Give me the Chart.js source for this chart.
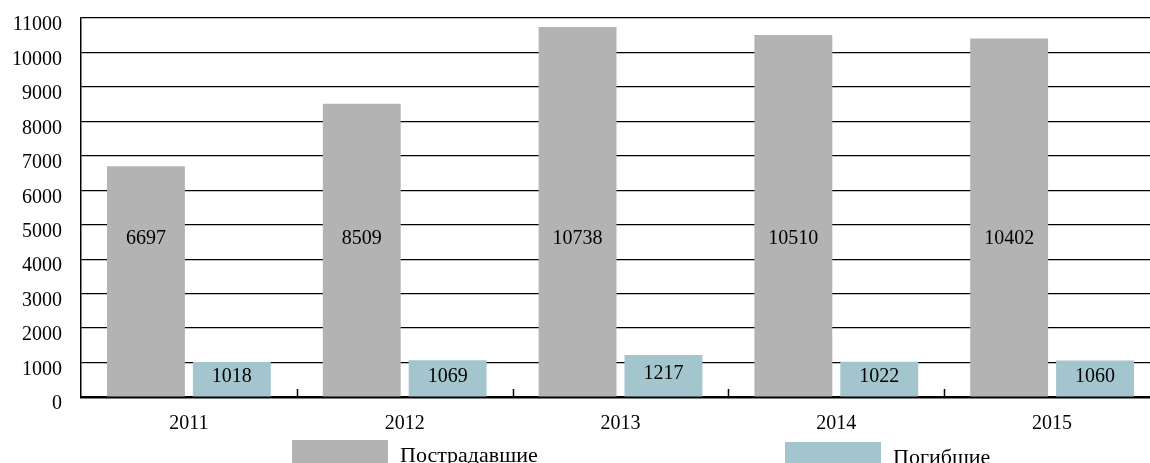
<!DOCTYPE html>
<html>
<head>
<meta charset="utf-8">
<script src="https://cdn.jsdelivr.net/npm/chart.js@4"></script>
<style>
    html, body { margin: 0; padding: 0; background: #fff; overflow: hidden; }
    #wrap { position: relative; width: 1160px; height: 463px; }
</style>
</head>
<body>
<div id="wrap"><canvas id="accidentsChart"></canvas></div>
<script>
const years = ['2011', '2012', '2013', '2014', '2015'];
const injured = [6697, 8509, 10738, 10510, 10402];
const killed = [1018, 1069, 1217, 1022, 1060];
const seriesNames = ['Пострадавшие', 'Погибшие'];
const yTicks = [0, 1000, 2000, 3000, 4000, 5000, 6000, 7000, 8000, 9000, 10000, 11000];

const FONT = '"Liberation Serif", "Times New Roman", serif';
const GREY = '#b3b3b3';
const BLUE = '#a3c5ce';

// value labels inside the bars (grey ones sit at a fixed height, like the original)
const barLabels = {
    id: 'barLabels',
    afterDatasetsDraw(chart) {
        const ctx = chart.ctx;
        const yScale = chart.scales.y;
        ctx.save();
        ctx.font = '20px ' + FONT;
        ctx.fillStyle = '#000';
        ctx.textAlign = 'center';
        ctx.textBaseline = 'middle';
        chart.data.datasets.forEach((ds, i) => {
            chart.getDatasetMeta(i).data.forEach((bar, j) => {
                let y;
                if (i === 0) {
                    y = yScale.getPixelForValue(4600);
                } else {
                    y = (bar.y + bar.base) / 2 - 2;
                }
                ctx.fillText(String(ds.data[j]), bar.x, y);
            });
        });
        ctx.restore();
    }
};

// small tick marks on the category axis, pointing up into the plot
const innerTicks = {
    id: 'innerTicks',
    afterDatasetsDraw(chart) {
        const ctx = chart.ctx;
        const xScale = chart.scales.x;
        const base = chart.chartArea.bottom;
        ctx.save();
        ctx.strokeStyle = '#000';
        ctx.lineWidth = 1.5;
        for (let i = 1; i < years.length; i++) {
            const x = Math.round((xScale.getPixelForValue(i - 1) + xScale.getPixelForValue(i)) / 2) + 0.5;
            ctx.beginPath();
            ctx.moveTo(x, base);
            ctx.lineTo(x, base - 8);
            ctx.stroke();
        }
        ctx.restore();
    }
};

// legend drawn by hand because the items are spread far apart
const spreadLegend = {
    id: 'spreadLegend',
    afterDraw(chart) {
        const ctx = chart.ctx;
        const boxX = [292, 785];
        const boxY = [440, 442];
        ctx.save();
        ctx.font = '22px ' + FONT;
        ctx.textAlign = 'left';
        ctx.textBaseline = 'middle';
        chart.data.datasets.forEach((ds, i) => {
            ctx.fillStyle = ds.backgroundColor;
            ctx.fillRect(boxX[i], boxY[i], 96, 30);
            ctx.fillStyle = '#000';
            ctx.fillText(ds.label, boxX[i] + 108, boxY[i] + 16);
        });
        ctx.restore();
    }
};

new Chart(document.getElementById('accidentsChart'), {
    type: 'bar',
    data: {
        labels: years,
        datasets: [{
            label: seriesNames[0],
            data: injured,
            backgroundColor: GREY,
            categoryPercentage: 0.796,
            barPercentage: 0.907
        }, {
            label: seriesNames[1],
            data: killed,
            backgroundColor: BLUE,
            categoryPercentage: 0.796,
            barPercentage: 0.907
        }]
    },
    options: {
        responsive: true,
        maintainAspectRatio: false,
        animation: false,
        layout: {
            padding: { top: 18, left: 0, right: 0, bottom: 0 }
        },
        scales: {
            x: {
                grid: { display: false, drawTicks: false },
                border: { display: true, color: '#000', width: 2.5 },
                ticks: {
                    color: '#000',
                    font: { family: FONT, size: 20 },
                    padding: 15
                },
                afterFit(scale) {
                    scale.height = 66;
                    scale.paddingLeft = 0;
                    scale.paddingRight = 0;
                }
            },
            y: {
                min: 0,
                max: 11000,
                afterBuildTicks(scale) {
                    scale.ticks = yTicks.map(v => ({ value: v }));
                },
                grid: {
                    color: '#000',
                    lineWidth: 1.2,
                    drawTicks: false
                },
                border: { display: true, color: '#000', width: 1.5 },
                ticks: {
                    color: '#000',
                    font: { family: FONT, size: 20 },
                    padding: 19,
                    labelOffset: 7,
                    callback: value => String(value)
                },
                afterFit(scale) {
                    scale.width = 81;
                    scale.paddingTop = 0;
                    scale.paddingBottom = 0;
                }
            }
        },
        plugins: {
            legend: { display: false },
            tooltip: { enabled: false }
        }
    },
    plugins: [barLabels, innerTicks, spreadLegend]
});
</script>
</body>
</html>
